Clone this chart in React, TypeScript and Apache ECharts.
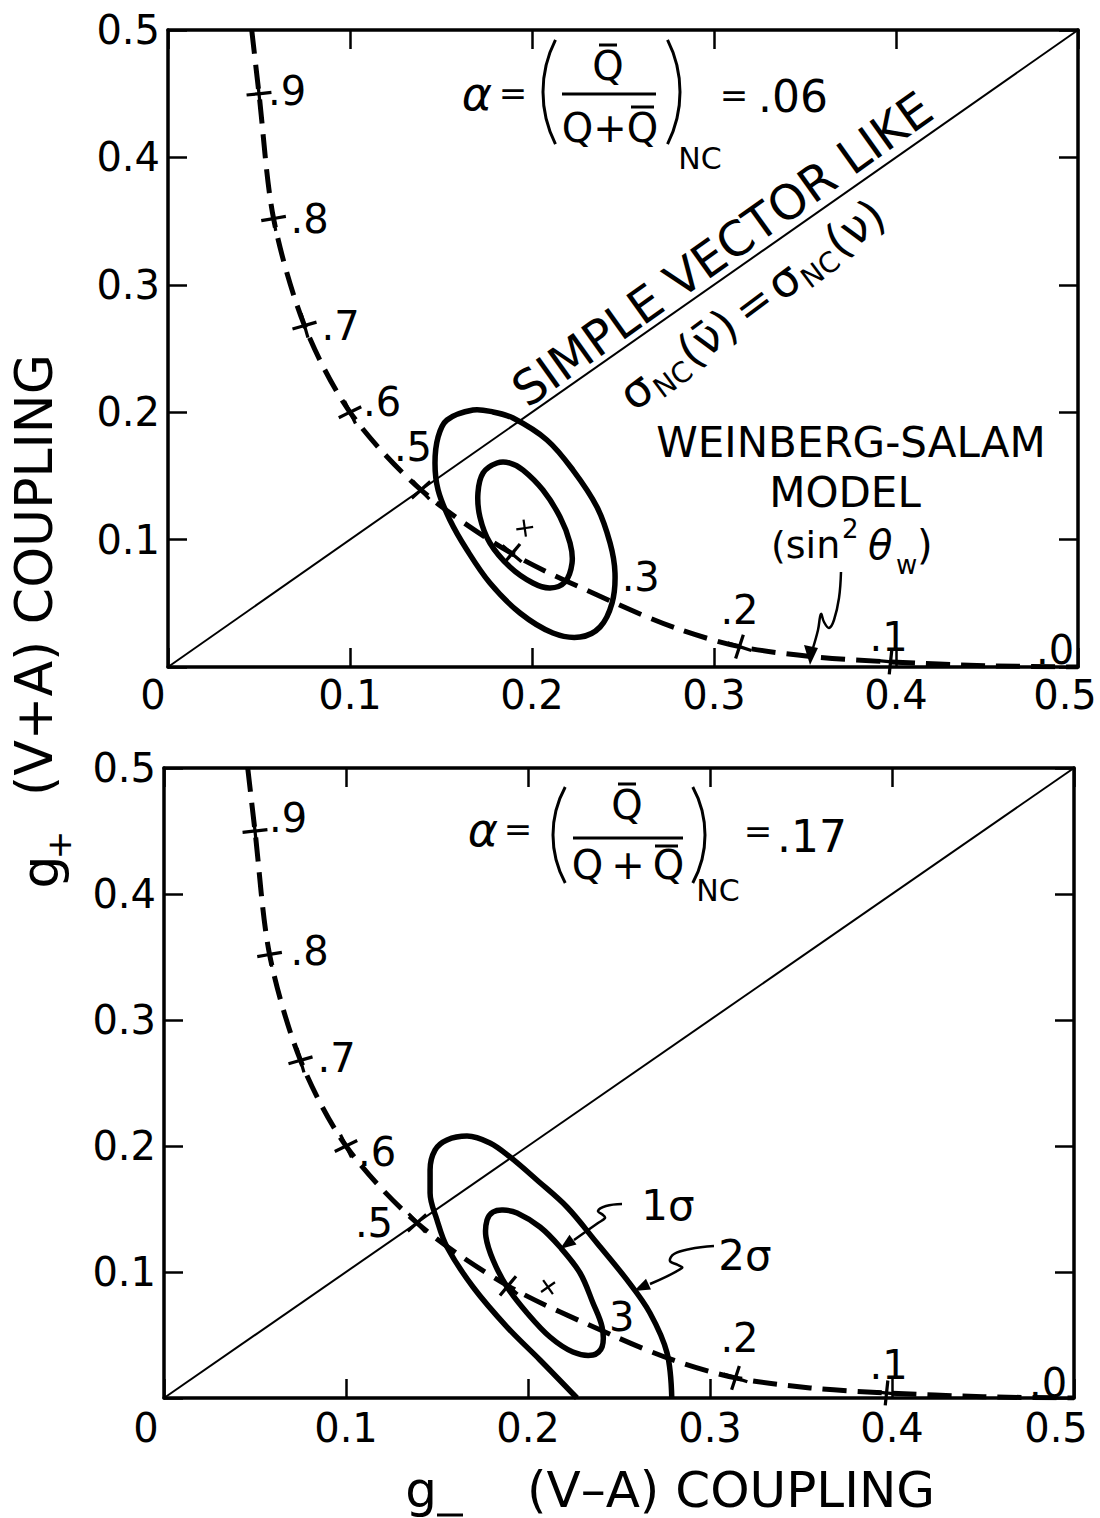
import React, { useEffect, useRef } from 'react';
import * as echarts from 'echarts';

const FONT = '"DejaVu Sans", "Liberation Sans", Arial, sans-serif';

// ---- axis scale (both panels) ----
const axisMin = 0;
const axisMax = 0.5;
const axisInterval = 0.1;

// ---- Weinberg–Salam model curve, marks at sin^2(theta_W) = .9 ... .0 ----
const wsMarkLabelsTop = ['.9', '.8', '.7', '.6', '.5', '', '.3', '.2', '.1', '.0'];
const wsMarkLabelsBottom = ['.9', '.8', '.7', '.6', '.5', '', '3', '.2', '.1', '.0'];
const wsMarkGminus = [0.050, 0.058, 0.075, 0.100, 0.139, 0.189, 0.246, 0.314, 0.397, 0.500];
const wsMarkGplus = [0.450, 0.352, 0.268, 0.200, 0.139, 0.089, 0.050, 0.016, 0.004, 0.000];
const wsCrossShown = [true, true, true, true, true, true, false, true, true, false];

const wsCurveGminus = [0.046, 0.050, 0.058, 0.075, 0.100, 0.139, 0.189, 0.246, 0.280, 0.314, 0.355, 0.397, 0.450, 0.500];
const wsCurveGplus = [0.500, 0.450, 0.352, 0.268, 0.200, 0.139, 0.089, 0.050, 0.030, 0.016, 0.008, 0.004, 0.001, 0.000];

// ---- "simple vector like" diagonal g+ = g- ----
const diagGminus = [0, 0.5];
const diagGplus = [0, 0.5];

// ---- top panel (alpha = .06) contours ----
const topBestFit = [0.196, 0.109];
const top2SigmaGminus = [0.1676, 0.1533, 0.1484, 0.1467, 0.1484, 0.1549, 0.1643, 0.1769, 0.1934, 0.2115, 0.2264, 0.2374, 0.2440, 0.2456, 0.2429, 0.2357, 0.2225, 0.2082, 0.1896, 0.1786];
const top2SigmaGplus = [0.2017, 0.1939, 0.1805, 0.1601, 0.1389, 0.1154, 0.0918, 0.0659, 0.0424, 0.0267, 0.0235, 0.0314, 0.0502, 0.0738, 0.0973, 0.1256, 0.1546, 0.1782, 0.1954, 0.2002];
const top1SigmaGminus = [0.1808, 0.1731, 0.1703, 0.1714, 0.1769, 0.1879, 0.2005, 0.2099, 0.2181, 0.2220, 0.2209, 0.2154, 0.2060, 0.1951, 0.1879];
const top1SigmaGplus = [0.1601, 0.1523, 0.1366, 0.1177, 0.0973, 0.0785, 0.0659, 0.0620, 0.0667, 0.0816, 0.0973, 0.1177, 0.1389, 0.1546, 0.1601];

// ---- bottom panel (alpha = .17) contours ----
const bottomBestFit = [0.211, 0.088];
const bottom2SigmaGminus = [0.2790, 0.2764, 0.2670, 0.2544, 0.2379, 0.2214, 0.2049, 0.1901, 0.1791, 0.1665, 0.1555, 0.1489, 0.1462, 0.1462, 0.1500, 0.1555, 0.1698, 0.1885, 0.2066, 0.2269];
const bottom2SigmaGplus = [0.0000, 0.0357, 0.0675, 0.0937, 0.1230, 0.1516, 0.1730, 0.1913, 0.2024, 0.2079, 0.2048, 0.1968, 0.1810, 0.1627, 0.1413, 0.1198, 0.0881, 0.0563, 0.0302, 0.0000];
const bottom1SigmaGminus = [0.1808, 0.1775, 0.1769, 0.1808, 0.1885, 0.1995, 0.2121, 0.2247, 0.2357, 0.2407, 0.2407, 0.2357, 0.2286, 0.2176, 0.2066, 0.1940, 0.1863];
const bottom1SigmaGplus = [0.1476, 0.1413, 0.1278, 0.1095, 0.0881, 0.0675, 0.0484, 0.0365, 0.0341, 0.0405, 0.0563, 0.0754, 0.0992, 0.1198, 0.1357, 0.1468, 0.1492];

// ---- styles (not data) ----
const markRotation = [6, 10, 16, 26, 42, 50, 60, 72, 84, 90];
const topLabelOffsets = [[28, -3], [36, 0], [36, 0], [32, -10], [-8, -43], [0, 0], [25, -26], [0, -37], [-2, -25], [-23, -17]];
const bottomLabelOffsets = [[33, -13], [40, -3], [36, -2], [31, 6], [-43, 0], [0, 0], [10, -18], [4, -40], [2, -28], [-26, -15]];
const PLUS = 'path://M-1.3,-10h2.6v8.7h8.7v2.6h-8.7v8.7h-2.6v-8.7h-8.7v-2.6h8.7z';

function pairs(xs: number[], ys: number[]) {
  return xs.map((x, i) => [x, ys[i]]);
}

function xAxis(gridIndex: number, position: string, labels: boolean, loPad = 30, hiPad = 26, margin = 6) {
  return {
    type: 'value', gridIndex, position, min: axisMin, max: axisMax, interval: axisInterval,
    axisLine: { show: true, onZero: false, lineStyle: { color: '#000', width: 3.5 } },
    axisTick: { show: true, inside: true, length: 19, lineStyle: { color: '#000', width: 2.5 } },
    splitLine: { show: false },
    axisLabel: labels
      ? {
          show: true, margin, fontSize: 40, fontFamily: FONT, color: '#000',
          showMinLabel: true, showMaxLabel: true,
          formatter: (v: number) => {
            if (Math.abs(v) < 1e-9) return '{lo|0}';
            if (Math.abs(v - 0.5) < 1e-9) return '{hi|0.5}';
            return v.toFixed(1);
          },
          rich: {
            lo: { fontSize: 40, fontFamily: FONT, color: '#000', padding: [0, loPad, 0, 0] },
            hi: { fontSize: 40, fontFamily: FONT, color: '#000', padding: [0, hiPad, 0, 0] },
          },
        }
      : { show: false },
  };
}

function yAxis(gridIndex: number, position: string, labels: boolean) {
  return {
    type: 'value', gridIndex, position, min: axisMin, max: axisMax, interval: axisInterval,
    axisLine: { show: true, onZero: false, lineStyle: { color: '#000', width: 3.5 } },
    axisTick: { show: true, inside: true, length: 19, lineStyle: { color: '#000', width: 2.5 } },
    splitLine: { show: false },
    axisLabel: labels
      ? {
          show: true, margin: 8, fontSize: 40, fontFamily: FONT, color: '#000',
          showMinLabel: true, showMaxLabel: true,
          formatter: (v: number) => (Math.abs(v) < 1e-9 ? '' : v.toFixed(1)),
        }
      : { show: false },
  };
}

function panelSeries(ax: number, labels: string[], offsets: number[][], best: number[], closed: number[][][], open: number[][] | null) {
  const s: any[] = [];
  s.push({
    type: 'line', xAxisIndex: ax, yAxisIndex: ax, data: pairs(diagGminus, diagGplus),
    symbol: 'none', silent: true, lineStyle: { color: '#000', width: 2 },
  });
  s.push({
    type: 'custom', xAxisIndex: ax, yAxisIndex: ax, silent: true,
    data: closed.map(() => best),
    renderItem: (params: any, api: any) => ({
      type: 'polygon',
      shape: { points: closed[params.dataIndex].map((p) => api.coord(p)), smooth: 0.35 },
      style: { fill: 'none', stroke: '#000', lineWidth: 5.5 },
    }),
  });
  if (open) {
    s.push({
      type: 'line', xAxisIndex: ax, yAxisIndex: ax, data: open, smooth: 0.35,
      symbol: 'none', silent: true, lineStyle: { color: '#000', width: 5.5 },
    });
  }
  s.push({
    type: 'line', xAxisIndex: ax, yAxisIndex: ax, data: pairs(wsCurveGminus, wsCurveGplus),
    smooth: 0.3, symbol: 'none', silent: true,
    lineStyle: { color: '#000', width: 5, type: [24, 11], cap: 'butt' },
  });
  s.push({
    type: 'scatter', xAxisIndex: ax, yAxisIndex: ax, silent: true, symbol: PLUS,
    itemStyle: { color: '#000', opacity: 1 },
    data: wsMarkGminus.map((x, i) => ({
      value: [x, wsMarkGplus[i]], symbolSize: wsCrossShown[i] ? 25 : 0, symbolRotate: markRotation[i],
    })),
  });
  s.push({
    type: 'scatter', xAxisIndex: ax, yAxisIndex: ax, silent: true, symbol: PLUS,
    itemStyle: { color: '#000', opacity: 1 }, symbolSize: 17, symbolRotate: ax === 0 ? 8 : 35,
    data: [best],
  });
  s.push({
    type: 'scatter', xAxisIndex: ax, yAxisIndex: ax, silent: true, symbolSize: 0,
    itemStyle: { color: '#000', opacity: 1 },
    data: wsMarkGminus.map((x, i) => ({
      value: [x, wsMarkGplus[i]],
      label: {
        show: labels[i] !== '', position: 'inside', offset: offsets[i], formatter: labels[i],
        fontSize: 40, fontFamily: FONT, color: '#000', opacity: 1, textBorderWidth: 0, textBorderColor: 'transparent',
      },
    })),
  });
  return s;
}

const T = (x: number, y: number, text: string, fontSize: number, extra: any = {}) => ({
  type: 'text', x, y, silent: true,
  style: { text, fontSize, fontFamily: FONT, fill: '#000', align: 'center', verticalAlign: 'middle', ...extra },
});
const L = (x1: number, y1: number, x2: number, y2: number, w = 3) => ({
  type: 'line', silent: true, shape: { x1, y1, x2, y2 }, style: { stroke: '#000', lineWidth: w },
});
const ARC = (cx: number, cy: number, r: number, s: number, e: number) => ({
  type: 'arc', silent: true, shape: { cx, cy, r, startAngle: s, endAngle: e, clockwise: true },
  style: { stroke: '#000', lineWidth: 3, fill: 'none' },
});
const PL = (points: number[][], w = 2.5) => ({
  type: 'polyline', silent: true, shape: { points, smooth: 0.4 }, style: { stroke: '#000', lineWidth: w, fill: 'none' },
});
const PG = (points: number[][]) => ({ type: 'polygon', silent: true, shape: { points }, style: { fill: '#000' } });

function buildGraphics() {
  const g: any[] = [];
  const sub = (x: number, y: number, text: string, size: number, align = 'left', extra: any = {}) => ({
    type: 'text', x, y, silent: true,
    style: { text, fontSize: size, fontFamily: FONT, fill: '#000', align, verticalAlign: 'middle', ...extra },
  });
  // top formula
  g.push(T(477, 94, 'α', 46, { fontStyle: 'italic' }));
  g.push(T(513, 93, '=', 34));
  g.push(ARC(658, 92, 115, Math.PI - 0.47, Math.PI + 0.47));
  g.push(ARC(565, 92, 115, -0.47, 0.47));
  g.push(T(608, 66, 'Q', 40));
  g.push(L(599, 45, 617, 45, 3));
  g.push(L(562, 94, 656, 94, 3));
  g.push(T(610, 128, 'Q+Q', 40));
  g.push(L(631, 107, 654, 107, 3));
  g.push(T(700, 158, 'NC', 30));
  g.push(T(734, 95, '=', 34));
  g.push(T(793, 96, '.06', 44));

  // diagonal annotations
  g.push({
    type: 'text', x: 722, y: 249, rotation: (35.5 * Math.PI) / 180, silent: true,
    style: { text: 'SIMPLE VECTOR LIKE', fontSize: 48, fontFamily: FONT, fill: '#000', align: 'center', verticalAlign: 'middle' },
  });
  g.push({
    type: 'group', x: 750, y: 306, rotation: (36.7 * Math.PI) / 180, silent: true,
    children: [
      sub(-142, 0, 'σ', 46, 'center'),
      sub(-126, 13, 'NC', 28),
      sub(-84, 0, '(\u03BD\u0304)', 46),
      sub(4, 0, '=', 44, 'center'),
      sub(42, 0, 'σ', 46, 'center'),
      sub(58, 13, 'NC', 28),
      sub(100, 0, '(\u03BD)', 46),
    ],
  });

  // Weinberg-Salam annotation
  g.push(T(851, 442, 'WEINBERG-SALAM', 42));
  g.push(T(845, 492, 'MODEL', 42));
  g.push(T(771, 545, '(sin', 38, { align: 'left' }));
  g.push(T(842, 529, '2', 26, { align: 'left' }));
  g.push(T(868, 545, 'θ', 40, { align: 'left', fontStyle: 'italic' }));
  g.push(T(896, 565, 'w', 26, { align: 'left' }));
  g.push(T(917, 545, ')', 40, { align: 'left' }));
  g.push(PL([[841, 572], [839, 598], [834, 620], [829, 628], [824, 622], [821, 614], [818, 630], [813, 648]]));
  g.push(PG([[810, 665], [804, 645], [818, 648]]));

  // bottom formula
  g.push(T(483, 830, 'α', 46, { fontStyle: 'italic' }));
  g.push(T(518, 829, '=', 34));
  g.push(ARC(653, 835, 100, Math.PI - 0.5, Math.PI + 0.5));
  g.push(ARC(605, 835, 100, -0.5, 0.5));
  g.push(T(627, 805, 'Q', 40));
  g.push(L(618, 784, 636, 784, 3));
  g.push(L(573, 838, 683, 838, 3));
  g.push(T(628, 865, 'Q\u2009+\u2009Q', 40));
  g.push(L(655, 846, 678, 846, 3));
  g.push(T(718, 890, 'NC', 30));
  g.push(T(758, 831, '=', 34));
  g.push(T(812, 836, '.17', 44));

  // sigma annotations (bottom)
  g.push(T(668, 1205, '1σ', 42));
  g.push(PL([[622, 1204], [606, 1206], [598, 1211], [603, 1215], [605, 1218], [598, 1223], [574, 1240]]));
  g.push(PG([[560, 1249], [576.5, 1244.5], [569.5, 1234.7]]));
  g.push(T(745, 1255, '2σ', 42));
  g.push(PL([[714, 1246], [690, 1249], [674, 1254], [670, 1261], [678, 1265], [682, 1268], [650, 1284]]));
  g.push(PG([[634, 1291], [651, 1289.6], [646, 1278.8]]));

  // axis titles
  g.push({
    type: 'text', x: 34, y: 575, rotation: Math.PI / 2, silent: true,
    style: { text: '(V+A) COUPLING', fontSize: 52, fontFamily: FONT, fill: '#000', align: 'center', verticalAlign: 'middle' },
  });
  g.push({
    type: 'group', x: 40, y: 872, rotation: Math.PI / 2, silent: true,
    children: [sub(0, 0, 'g', 52, 'center'), sub(27, 19, '+', 34, 'center')],
  });
  g.push(T(731, 1490, '(V\u2013A) COUPLING', 50));
  g.push(T(421, 1490, 'g', 50));
  g.push(L(437, 1515, 463, 1515, 3));
  return g;
}

function buildOption() {
  return {
    animation: false,
    backgroundColor: '#fff',
    grid: [
      { left: 168, top: 30, width: 910, height: 637, outerBoundsMode: 'none', containLabel: false },
      { left: 164, top: 768, width: 910, height: 630, outerBoundsMode: 'none', containLabel: false },
    ],
    xAxis: [
      xAxis(0, 'bottom', true, 30, 26, 8),
      xAxis(0, 'top', false),
      xAxis(1, 'bottom', true, 36, 36, 10),
      xAxis(1, 'top', false),
    ],
    yAxis: [yAxis(0, 'left', true), yAxis(0, 'right', false), yAxis(1, 'left', true), yAxis(1, 'right', false)],
    series: [
      ...panelSeries(0, wsMarkLabelsTop, topLabelOffsets, topBestFit,
        [pairs(top2SigmaGminus, top2SigmaGplus), pairs(top1SigmaGminus, top1SigmaGplus)], null),
      ...panelSeries(2, wsMarkLabelsBottom, bottomLabelOffsets, bottomBestFit,
        [pairs(bottom1SigmaGminus, bottom1SigmaGplus)], pairs(bottom2SigmaGminus, bottom2SigmaGplus)),
    ],
    graphic: buildGraphics(),
  };
}

export default function App() {
  const ref = useRef<HTMLDivElement>(null);
  useEffect(() => {
    if (!ref.current) return;
    const chart = echarts.init(ref.current, null, { renderer: 'svg' });
    chart.setOption(buildOption() as any);
    return () => chart.dispose();
  }, []);
  return (
    <div
      ref={ref}
      style={{ position: 'absolute', left: 0, top: 0, width: 1100, height: 1518, background: '#fff' }}
    />
  );
}
